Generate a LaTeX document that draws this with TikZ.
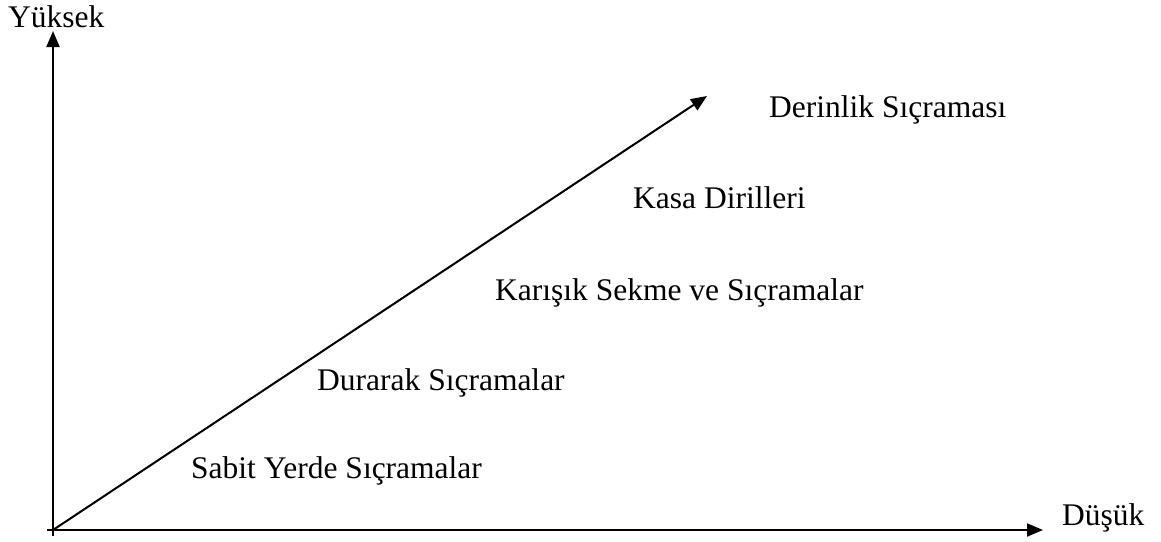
\documentclass[tikz,border=0pt]{standalone}
\usepackage{fontspec}
\setmainfont{Liberation Serif}
\usetikzlibrary{arrows.meta}
\begin{document}
\begin{tikzpicture}[x=1pt,y=-1pt,
  lbl/.style={anchor=base west,inner sep=0pt,font=\fontsize{31.5}{36}\selectfont},
  axis/.style={line width=2pt,-{Triangle[length=16pt,width=13pt]}}]
\useasboundingbox (0,0) rectangle (1161,541);
\coordinate (o) at (53,530);
\coordinate (vbot) at (53,536);
\coordinate (vtop) at (53,31);
\coordinate (hleft) at (47,530);
\coordinate (hright) at (1043,530);
\coordinate (dtip) at (707,96);
\draw[axis] (vbot) -- (vtop);
\draw[axis] (hleft) -- (hright);
\draw[axis] (o) -- (dtip);
\node[lbl] (yuksek) at (8,27) {Yüksek};
\node[lbl] (dusuk) at (1062,525) {Düşük};
\node[lbl] (derin) at (769,117) {Derinlik Sıçraması};
\node[lbl] (kasa) at (633,208) {Kasa Dirilleri};
\node[lbl] (karisik) at (495,300) {Karışık Sekme ve Sıçramalar};
\node[lbl] (durarak) at (317,390) {Durarak Sıçramalar};
\node[lbl] (sabit) at (191,478) {Sabit Yerde Sıçramalar};
\end{tikzpicture}
\end{document}
